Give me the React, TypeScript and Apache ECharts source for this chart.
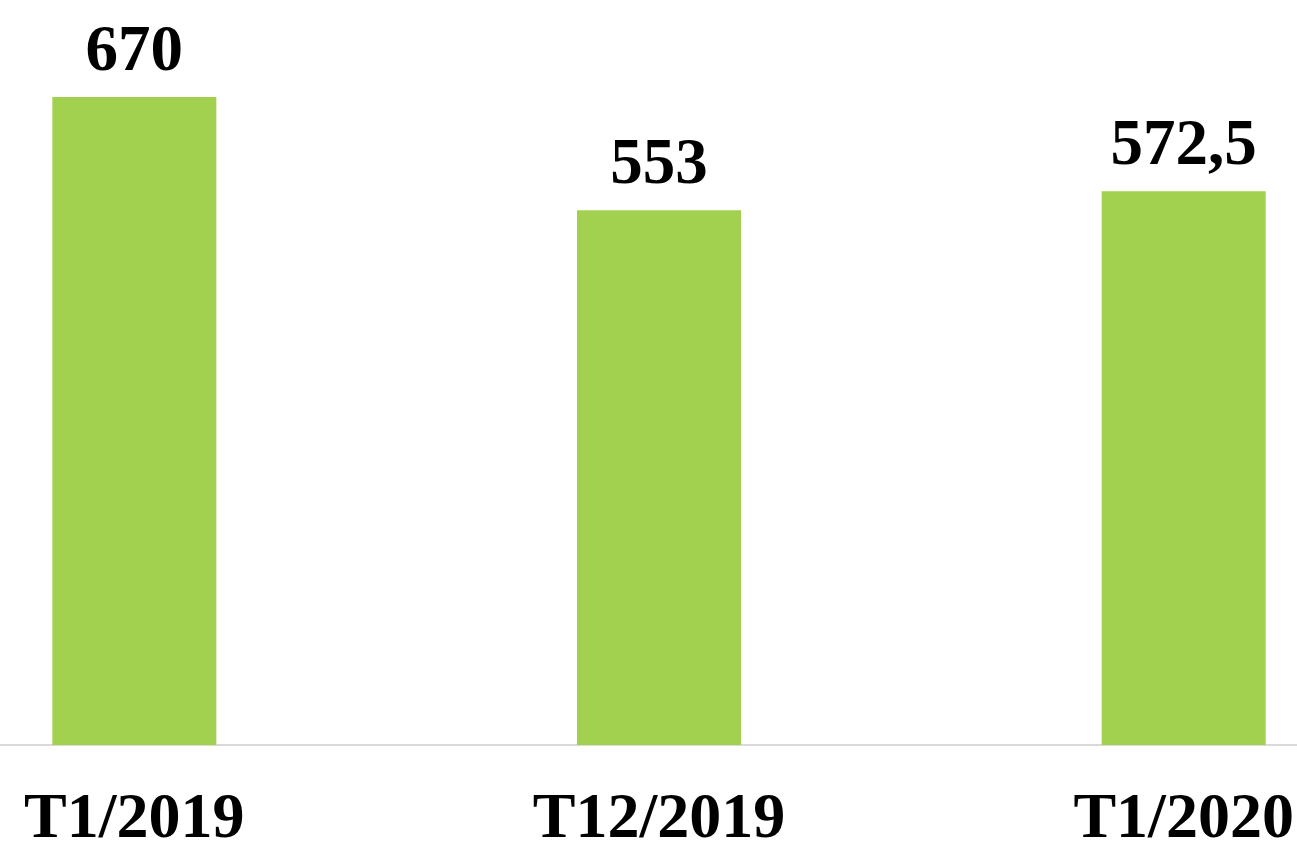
import React, { useEffect, useRef } from "react";
import * as echarts from "echarts";

const categories = ["T1/2019", "T12/2019", "T1/2020"];
const values = [670, 553, 572.5];
const labels = ["670", "553", "572,5"];

export default function App() {
  const ref = useRef<HTMLDivElement>(null);
  useEffect(() => {
    if (!ref.current) return;
    const chart = echarts.init(ref.current, undefined, { renderer: "svg" });
    chart.setOption({
      animation: false,
      grid: { left: 0, right: 0, top: 68, bottom: 98, containLabel: false, outerBoundsMode: "none" },
      xAxis: {
        type: "category",
        data: categories,
        axisLine: { show: true, lineStyle: { color: "#d9d9d9", width: 2 } },
        axisTick: { show: false },
        axisLabel: {
          margin: 38,
          fontFamily: "Liberation Serif",
          fontWeight: "bold",
          fontSize: 64,
          lineHeight: 64,
          color: "#000",
          interval: 0,
        },
      },
      yAxis: {
        type: "value",
        min: 0,
        max: 700,
        show: false,
        splitLine: { show: false },
      },
      series: [
        {
          type: "bar",
          data: values,
          barWidth: 164,
          itemStyle: { color: "#a2d14f" },
          label: {
            show: true,
            position: "top",
            distance: 17,
            formatter: (p: any) => labels[p.dataIndex],
            fontFamily: "Liberation Serif",
            fontWeight: "bold",
            fontSize: 65,
            lineHeight: 64,
            color: "#000",
          },
        },
      ],
    });
    return () => chart.dispose();
  }, []);
  return (
    <div
      ref={ref}
      style={{ position: "fixed", left: -128, top: 0, width: 1574, height: 843, background: "#fff" }}
    />
  );
}
